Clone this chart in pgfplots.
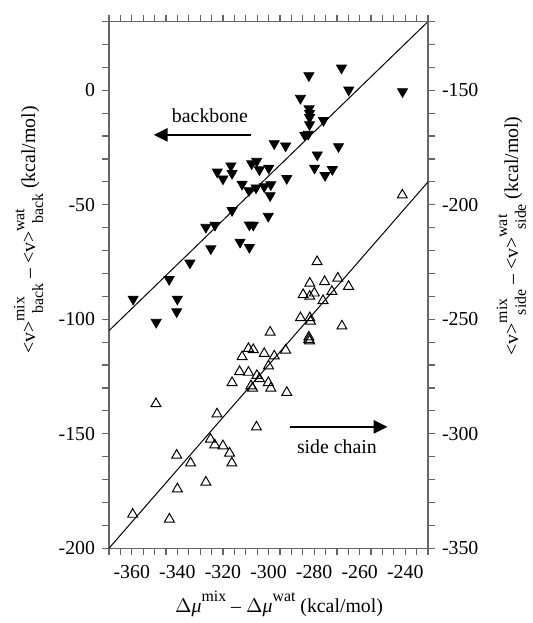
\documentclass[border=0pt]{standalone}
\usepackage{fontspec}
\setmainfont{Liberation Serif}
\usepackage{pgfplots}
\pgfplotsset{compat=1.18}
\usetikzlibrary{arrows.meta}

\newcommand{\sm}[1]{{\fontsize{8}{8}\selectfont #1}}
% <v> with a raised tag and a lowered tag, the lower one shifted right
\newcommand{\vsub}[2]{\textless v\textgreater\rlap{\raisebox{.55em}{\sm{#1}}}\hspace{4pt}\raisebox{-.4em}{\sm{#2}}}

\pgfplotsset{
    frame axis/.style={
            scale only axis,
            width=161pt, height=265.8pt,
            xmin=-370, xmax=-230,
            major tick length=3.5pt, minor tick length=3.5pt,
            axis line style={black!60, line width=0.7pt},
            tick style={black!60, line width=0.6pt},
            /pgf/number format/assume math mode=true,
            ticklabel style={font=\fontsize{10}{12}\selectfont},
            label style={font=\fontsize{10}{12}\selectfont},
        },
}

\begin{document}
\begin{tikzpicture}
    % left axis: backbone
    \begin{axis}[frame axis,
            ymin=-200, ymax=30,
            xtick={-360,-340,...,-240},
            minor xtick={-370,-365,...,-230},
            ytick={-200,-150,...,0},
            minor ytick={-190,-180,...,30},
            ytick pos=left,
            tick align=outside,
            xticklabel style={yshift=-1.5pt},
            xlabel={$\Delta$\textit{μ}\raisebox{.55em}{\sm{mix}} – $\Delta$\textit{μ}\raisebox{.55em}{\sm{wat}} (kcal/mol)},
            xlabel style={at={(axis description cs:0.533,-0.105)}, anchor=center},
            ylabel={\vsub{mix}{back} – \vsub{wat}{back} (kcal/mol)},
            ylabel style={at={(axis description cs:-0.252,0.604)}, anchor=center},
        ]
        \coordinate (bl) at (rel axis cs:-0.3416,-0.1311);
        \coordinate (tr) at (rel axis cs:1.3043,1.0408);
        \addplot[black, line width=0.5pt] coordinates {(-370,-105) (-230,30)};
        \addplot[only marks, mark=triangle*, mark size=2.9pt,
            mark options={rotate=180, fill=black, draw=black}]
        coordinates {
                (-282.3,6.4) (-268,9.7) (-264.8,0.1) (-241.2,-0.6) (-286,-3.5)
                (-282.2,-8.1) (-282,-10.1) (-282,-11.9) (-275.9,-13.2) (-282,-15)
                (-284.1,-19.6) (-282.6,-19.2) (-297.5,-23.3) (-292.5,-24.3) (-269.3,-24.6)
                (-278.6,-28.2) (-305.2,-31) (-307.4,-32.1) (-304,-34.7) (-299.9,-34)
                (-322.5,-35.7) (-316.5,-33) (-316,-36.3) (-320,-38.7) (-279.8,-34)
                (-272,-34.6) (-275.2,-37.2) (-292,-38.5) (-311.6,-41) (-308.6,-43.8)
                (-305.5,-42.6) (-301.9,-42.1) (-299,-41.2) (-299.3,-46) (-316,-52.5)
                (-300.1,-55) (-327.5,-59.8) (-323.5,-58.9) (-308.4,-58.8) (-306.7,-58.9)
                (-312.5,-66.3) (-308.4,-68.6) (-325.3,-69.2) (-334.5,-75.4) (-343.6,-82.6)
                (-359.4,-91.2) (-340,-91.2) (-340.3,-96.7) (-349.3,-101.3)
            };
        % direction hints
        \draw[line width=1.3pt, -{Triangle[length=7pt,width=6.5pt]}]
        (axis cs:-307.7,-19.5) -- (axis cs:-350.4,-19.5);
        \node[font=\fontsize{10}{12}\selectfont] at (axis cs:-325.7,-11.2) {backbone};
        \draw[line width=1.3pt, -{Triangle[length=7pt,width=6.5pt]}]
        (axis cs:-290.7,-147) -- (axis cs:-247.8,-147);
        \node[font=\fontsize{10}{12}\selectfont] at (axis cs:-270,-155.8) {side chain};
    \end{axis}
    % right axis: side chain
    \begin{axis}[frame axis,
            ymin=-350, ymax=-120,
            axis x line=none,
            axis y line*=right,
            ytick={-350,-300,...,-150},
            minor ytick={-340,-330,...,-120},
            tick align=outside,
            ylabel={\vsub{mix}{side} – \vsub{wat}{side} (kcal/mol)},
            ylabel style={at={(axis description cs:1.261,0.593)}, anchor=center},
        ]
        \addplot[black, line width=0.5pt] coordinates {(-370,-350) (-230,-190)};
        \addplot[only marks, mark=triangle, mark size=2.9pt,
            mark options={draw=black, line width=0.5pt}]
        coordinates {
                (-241.3,-195.8) (-278.7,-224.9) (-281.9,-234.3) (-275.4,-233.6) (-269.6,-232.1)
                (-264.9,-235.7) (-284.8,-239.3) (-281.9,-240) (-279.9,-238.6) (-272.2,-237.9)
                (-276.1,-241.9) (-286,-249.4) (-281.9,-249.4) (-281.6,-250.9) (-267.8,-253)
                (-299.3,-255.7) (-282.3,-257.8) (-282.3,-258.8) (-282,-259.5) (-308.8,-262.8)
                (-306.7,-263.3) (-311.6,-266.4) (-301.9,-265) (-297.5,-266.1) (-292.5,-263.5)
                (-312.7,-272.9) (-308.8,-273.2) (-305.1,-274.6) (-304,-276) (-300,-270.4)
                (-316,-277.7) (-307.7,-279.1) (-307,-280.1) (-300.1,-277.7) (-299,-280.1)
                (-292,-282) (-349.4,-286.9) (-322.6,-291.4) (-305.3,-297.1) (-325.5,-302.4)
                (-323.6,-304.9) (-320,-305.3) (-317.1,-308.5) (-316.1,-312.8) (-340.3,-309.4)
                (-334.2,-312.8) (-327.5,-321.2) (-340,-324.1) (-359.6,-335.2) (-343.5,-337.3)
            };
    \end{axis}
    \path (bl) rectangle (tr);
\end{tikzpicture}
\end{document}
